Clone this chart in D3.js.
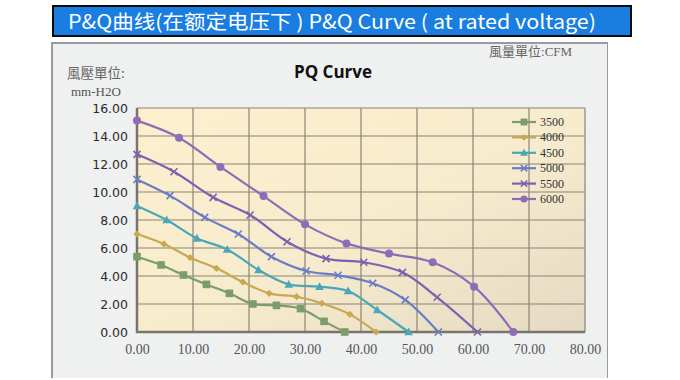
<!DOCTYPE html>
<html><head><meta charset="utf-8">
<script src="https://cdn.jsdelivr.net/npm/d3@7"></script>
<style>body{margin:0;background:#fff;}svg{display:block;}</style>
</head><body>
<script>
const speeds = ["3500","4000","4500","5000","5500","6000"];
const colors = ["#7c9c6c","#c8a850","#4aa6b8","#6a7cc6","#7e60b0","#8f6cb6"];
const markers = ["square","diamond","triangle","cross","cross","circle"];
const flow3500 = [0,4.3,8.3,12.4,16.5,20.7,24.9,29.2,33.4,37.1];
const pres3500 = [5.38,4.79,4.07,3.4,2.76,2.0,1.9,1.67,0.76,0];
const flow4000 = [0,4.8,9.5,14.2,18.9,23.6,28.5,33.0,38.0,42.7];
const pres4000 = [7.0,6.29,5.31,4.55,3.57,2.76,2.52,2.05,1.26,0];
const flow4500 = [0,5.3,10.7,16.1,21.7,27.1,32.6,37.7,42.9,48.5];
const pres4500 = [9.0,8.0,6.69,5.9,4.43,3.4,3.24,2.93,1.57,0];
const flow5000 = [0,5.9,12.1,18.1,24.0,30.2,35.9,42.1,47.9,53.8];
const pres5000 = [10.9,9.74,8.19,7.0,5.38,4.36,4.05,3.48,2.29,0];
const flow5500 = [0,6.6,13.6,20.2,26.8,33.75,40.5,47.4,53.6,60.8];
const pres5500 = [12.69,11.45,9.62,8.36,6.45,5.24,4.98,4.26,2.48,0];
const flow6000 = [0,7.5,14.9,22.6,30.0,37.4,45.0,52.8,60.2,67.2];
const pres6000 = [15.1,13.88,11.79,9.71,7.69,6.33,5.6,4.98,3.24,0];
const xTicks = [0,10,20,30,40,50,60,70,80];
const yTicks = [0,2,4,6,8,10,12,14,16];
const flows = [flow3500,flow4000,flow4500,flow5000,flow5500,flow6000];
const press = [pres3500,pres4000,pres4500,pres5000,pres5500,pres6000];

const W=680,H=380;
const svg=d3.select("body").append("svg").attr("width",W).attr("height",H);
const defs=svg.append("defs");
const g1=defs.append("linearGradient").attr("id","pbg").attr("x1","0").attr("y1","0").attr("x2","1").attr("y2","1");
g1.append("stop").attr("offset","0").attr("stop-color","#fdf0cf");
g1.append("stop").attr("offset","0.55").attr("stop-color","#f6ebcd");
g1.append("stop").attr("offset","1").attr("stop-color","#e4dac2");

// title bar
svg.append("rect").attr("x",52).attr("y",5).attr("width",580).attr("height",32).attr("fill","#0a0a0a");
svg.append("rect").attr("x",54).attr("y",7).attr("width",576).attr("height",28).attr("fill","#1a7ee0");
svg.append("text").attr("x",68).attr("y",29).attr("fill","#fff")
  .attr("font-family","'Noto Sans CJK SC','Noto Sans',sans-serif").attr("font-size",19.5)
  .attr("textLength",528).attr("lengthAdjust","spacingAndGlyphs")
  .text("P&Q曲线(在额定电压下 ) P&Q Curve ( at rated voltage)");

// panel
svg.append("rect").attr("x",51).attr("y",42).attr("width",557).attr("height",336).attr("fill","#9a9a9a");
svg.append("rect").attr("x",53).attr("y",44).attr("width",554).attr("height",334).attr("fill","#eff0f0");

const x=d3.scaleLinear().domain([0,80]).range([137,585]);
const y=d3.scaleLinear().domain([0,16]).range([332,108]);

svg.append("rect").attr("x",x(0)).attr("y",y(16)).attr("width",x(80)-x(0)).attr("height",y(0)-y(16)).attr("fill","url(#pbg)");

const grid=svg.append("g");
grid.selectAll(".vx").data(xTicks).join("line").attr("x1",d=>x(d)).attr("x2",d=>x(d)).attr("y1",y(0)).attr("y2",y(16))
  .attr("stroke","#8a8478").attr("stroke-width",1.2);
grid.selectAll(".hy").data(yTicks).join("line").attr("y1",d=>y(d)).attr("y2",d=>y(d)).attr("x1",x(0)).attr("x2",x(80))
  .attr("stroke","#8a8478").attr("stroke-width",1.2);
svg.append("line").attr("x1",x(0)).attr("x2",x(0)).attr("y1",y(0)+1).attr("y2",y(16)).attr("stroke","#7a756c").attr("stroke-width",2.5);
svg.append("line").attr("x1",x(0)-1).attr("x2",x(80)).attr("y1",y(0)).attr("y2",y(0)).attr("stroke","#7a756c").attr("stroke-width",2.5);

// axes labels
const xAxis=d3.axisBottom(x).tickValues(xTicks).tickFormat(d3.format(".2f")).tickSize(0).tickPadding(0);
const gx=svg.append("g").attr("transform","translate(0,346)").call(xAxis);
gx.select(".domain").remove();
gx.selectAll("text").attr("font-family","'Liberation Serif',serif").attr("font-size",14).attr("fill","#555").attr("dy","0.55em");
const yAxis=d3.axisLeft(y).tickValues(yTicks).tickFormat(d3.format(".2f")).tickSize(0).tickPadding(0);
const gy=svg.append("g").attr("transform","translate(128,0)").call(yAxis);
gy.select(".domain").remove();
gy.selectAll("text").attr("font-family","'DejaVu Sans',sans-serif").attr("font-size",12.5).attr("fill","#2a2a2a");

svg.append("text").attr("x",67).attr("y",78).attr("font-family","'Noto Sans CJK TC',serif").attr("font-size",13.5).attr("fill","#666").text("風壓單位:");
svg.append("text").attr("x",71).attr("y",96).attr("font-family","'Liberation Serif',serif").attr("font-size",13).attr("fill","#555").text("mm-H2O");
const t2=svg.append("text").attr("x",489).attr("y",56).attr("font-size",13).attr("fill","#666");
t2.append("tspan").attr("font-family","'Noto Sans CJK TC',serif").text("風量單位");
t2.append("tspan").attr("font-family","'Liberation Serif',serif").text(":CFM");
svg.append("text").attr("x",333).attr("y",78).attr("text-anchor","middle").attr("font-family","'Open Sans','Noto Sans',sans-serif").attr("font-weight","bold").attr("font-size",17).attr("fill","#111").text("PQ Curve");

function drawMarker(sel,type,cx,cy,col,scale){
  const s=scale||1;
  if(type==="square") sel.append("rect").attr("x",cx-3.8*s).attr("y",cy-3.8*s).attr("width",7.6*s).attr("height",7.6*s).attr("fill",col);
  else if(type==="diamond") sel.append("path").attr("d",`M${cx},${cy-3.6*s}L${cx+3.6*s},${cy}L${cx},${cy+3.6*s}L${cx-3.6*s},${cy}Z`).attr("fill",col);
  else if(type==="triangle") sel.append("path").attr("d",`M${cx},${cy-4.5*s}L${cx+4.3*s},${cy+3.3*s}L${cx-4.3*s},${cy+3.3*s}Z`).attr("fill",col);
  else if(type==="cross") sel.append("path").attr("d",`M${cx-3.5*s},${cy-3.5*s}L${cx+3.5*s},${cy+3.5*s}M${cx+3.5*s},${cy-3.5*s}L${cx-3.5*s},${cy+3.5*s}`).attr("stroke",col).attr("stroke-width",1.6);
  else if(type==="circle") sel.append("circle").attr("cx",cx).attr("cy",cy).attr("r",4*s).attr("fill",col);
}

const line=d3.line().x(d=>x(d[0])).y(d=>y(d[1])).curve(d3.curveCatmullRom.alpha(0.5));
const series=svg.append("g");
speeds.forEach((s,i)=>{
  const pts=flows[i].map((f,j)=>[f,press[i][j]]);
  series.append("path").attr("d",line(pts)).attr("fill","none").attr("stroke",colors[i]).attr("stroke-width",2.2);
  const mg=series.append("g");
  pts.forEach(p=>drawMarker(mg,markers[i],x(p[0]),y(p[1]),colors[i]));
});

// legend
const lg=svg.append("g");
speeds.forEach((s,i)=>{
  const ly=122+i*15.4;
  lg.append("line").attr("x1",512).attr("x2",536).attr("y1",ly).attr("y2",ly).attr("stroke",colors[i]).attr("stroke-width",2.2);
  drawMarker(lg,markers[i],524,ly,colors[i],0.9);
  lg.append("text").attr("x",540).attr("y",ly+4).attr("font-family","'Liberation Serif',serif").attr("font-size",12).attr("fill","#333").text(s);
});
</script>
</body></html>
